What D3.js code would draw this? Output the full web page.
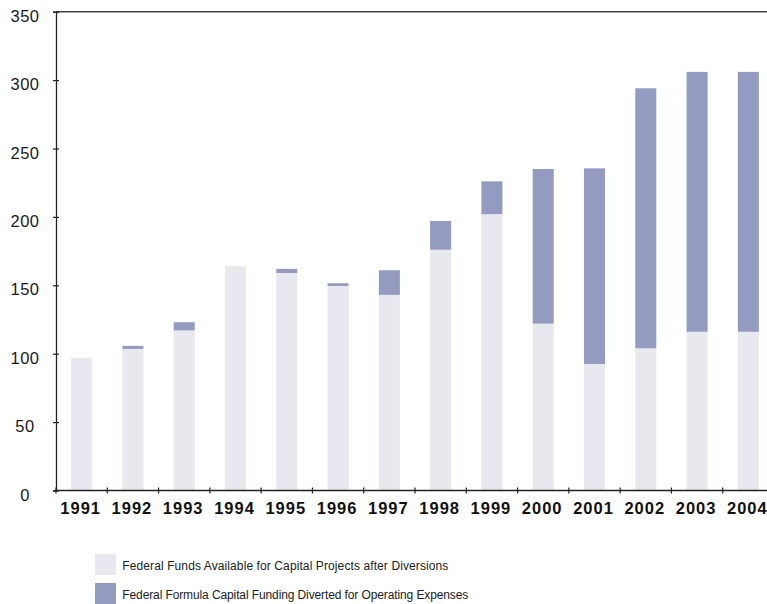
<!DOCTYPE html>
<html>
<head>
<meta charset="utf-8">
<script src="https://cdn.jsdelivr.net/npm/d3@7/dist/d3.min.js"></script>
<style>
  html, body { margin: 0; padding: 0; background: #fff; }
  svg { display: block; }
</style>
</head>
<body>
<svg id="chart" width="767" height="604"></svg>
<script>
// Federal capital funding by year (millions)
const years = ["1991","1992","1993","1994","1995","1996","1997","1998","1999","2000","2001","2002","2003","2004"];
const availableAfterDiversions = [97, 103.5, 117, 164, 159, 149.5, 143, 176, 202, 122, 92.5, 104, 116, 116];
const divertedToOperating = [0, 2.2, 6, 0, 3, 2, 18, 21, 24, 113, 143, 190, 190, 190];
const yTicks = [0, 50, 100, 150, 200, 250, 300, 350];
const seriesNames = [
  "Federal Funds Available for Capital Projects after Diversions",
  "Federal Formula Capital Funding Diverted for Operating Expenses"
];
const seriesColors = ["#e8e8ef", "#939bc0"];

const svg = d3.select("#chart");
const W = 767;
const axisColor = "#222";

const y = d3.scaleLinear().domain([0, 350]).range([490.5, 11.7]);
const x = d3.scaleBand().domain(years).range([56, 774]).paddingInner(0.59).paddingOuter(0.295);
const step = x.step();
const x0 = x.range()[0];

// stacked bars
const rows = years.map((yr, i) => ({ year: yr, avail: availableAfterDiversions[i], diverted: divertedToOperating[i] }));
const stack = d3.stack().keys(["avail", "diverted"]);
const layers = stack(rows);

svg.append("g").selectAll("g")
  .data(layers)
  .join("g")
  .attr("fill", (d, i) => seriesColors[i])
  .selectAll("rect")
  .data(d => d)
  .join("rect")
  .attr("x", d => x(d.data.year))
  .attr("width", x.bandwidth())
  .attr("y", d => y(d[1]))
  .attr("height", d => Math.max(0, y(d[0]) - y(d[1])));

// top frame line
svg.append("line")
  .attr("x1", 56).attr("x2", W)
  .attr("y1", y(350)).attr("y2", y(350))
  .attr("stroke", "#444").attr("stroke-width", 1.5);

// y axis
const yAxis = svg.append("g")
  .attr("transform", "translate(56,0)")
  .call(d3.axisLeft(y).tickValues(yTicks).tickSize(3).tickFormat(d3.format("d")));
yAxis.select(".domain").attr("stroke", axisColor).attr("stroke-width", 1.3);
yAxis.selectAll(".tick line").attr("x1", -3).attr("x2", 3).attr("stroke", axisColor).attr("stroke-width", 1.2);
yAxis.selectAll(".tick text")
  .attr("x", 25 - 56)
  .attr("dy", null)
  .attr("y", 9.5)
  .attr("text-anchor", "middle")
  .attr("fill", "#1a1a1a")
  .style("font-family", "'Liberation Sans', Arial, sans-serif")
  .style("font-size", "16.5px")
  .style("letter-spacing", "0.5px");

// x axis baseline
svg.append("line")
  .attr("x1", 56).attr("x2", W)
  .attr("y1", y(0)).attr("y2", y(0))
  .attr("stroke", axisColor).attr("stroke-width", 1.3);

// x ticks at category boundaries
svg.append("g").selectAll("line")
  .data(d3.range(years.length))
  .join("line")
  .attr("x1", i => x0 + i * step)
  .attr("x2", i => x0 + i * step)
  .attr("y1", y(0) - 3)
  .attr("y2", y(0) + 3)
  .attr("stroke", axisColor).attr("stroke-width", 1.2);

// x labels
svg.append("g").selectAll("text")
  .data(years)
  .join("text")
  .attr("x", d => x(d) + x.bandwidth() / 2 - 1)
  .attr("y", 513.5)
  .attr("text-anchor", "middle")
  .attr("fill", "#111")
  .style("font-family", "'Liberation Sans', Arial, sans-serif")
  .style("font-weight", "bold")
  .style("font-size", "16.5px")
  .style("letter-spacing", "1px")
  .text(d => d);

// legend
const legend = svg.append("g");
const legendTop = [554, 583];
const legendWidths = [326, 346];
seriesNames.forEach((name, i) => {
  legend.append("rect")
    .attr("x", 95).attr("y", legendTop[i])
    .attr("width", 21).attr("height", 21)
    .attr("fill", seriesColors[i]);
  legend.append("text")
    .attr("x", 122.3)
    .attr("y", legendTop[i] + 16)
    .attr("fill", "#222")
    .attr("textLength", legendWidths[i])
    .attr("lengthAdjust", "spacing")
    .style("font-family", "'Liberation Sans', Arial, sans-serif")
    .style("font-size", "12px")
    .text(name);
});
</script>
</body>
</html>
